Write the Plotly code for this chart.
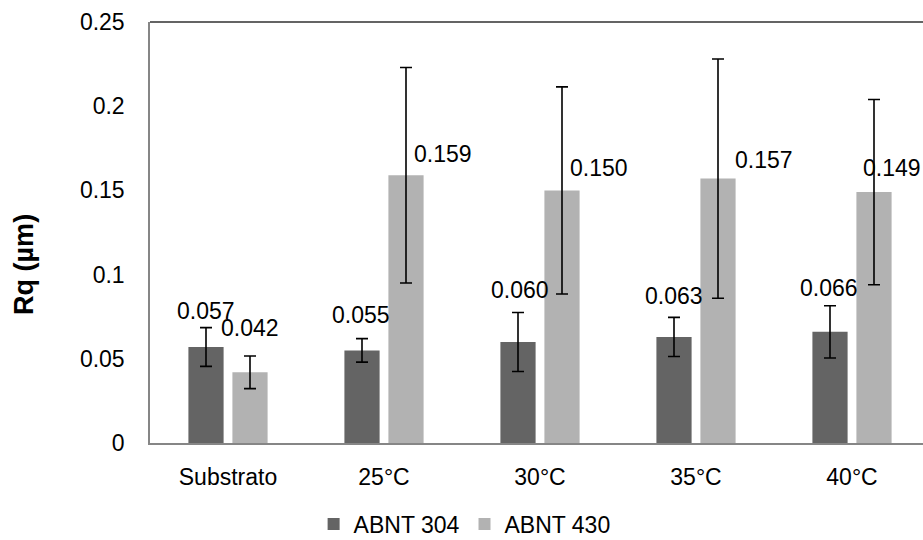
import plotly.graph_objects as go

categories = ["Substrato", "25°C", "30°C", "35°C", "40°C"]
series_names = ["ABNT 304", "ABNT 430"]
rq_304 = [0.057, 0.055, 0.060, 0.063, 0.066]
rq_430 = [0.042, 0.159, 0.150, 0.157, 0.149]
err_304 = [0.0115, 0.007, 0.0175, 0.0116, 0.0155]
err_430 = [0.0097, 0.064, 0.0615, 0.071, 0.055]
labels_304 = ["0.057", "0.055", "0.060", "0.063", "0.066"]
labels_430 = ["0.042", "0.159", "0.150", "0.157", "0.149"]

# label pixel offsets (dx, dy) relative to bar centre / bar top
lab_off_304 = [(0, 36), (-1, 35), (2, 52), (0, 41), (-1, 44)]
lab_off_430 = [(0, 44), (37, 21), (37, 22), (46, 19), (18, 24)]

colors = ["#646464", "#b2b2b2"]
FONT = "Liberation Sans"

fig = go.Figure()
for name, vals, errs, col in [
    (series_names[0], rq_304, err_304, colors[0]),
    (series_names[1], rq_430, err_430, colors[1]),
]:
    fig.add_trace(go.Bar(
        x=categories, y=vals, name=name,
        marker=dict(color=col, line=dict(width=0)),
        error_y=dict(type="data", array=errs, visible=True,
                     color="#000000", thickness=1.6, width=6),
    ))

annotations = []
for vals, labs, offs, gshift in [
    (rq_304, labels_304, lab_off_304, -22),
    (rq_430, labels_430, lab_off_430, 22),
]:
    for c, v, t, (dx, dy) in zip(categories, vals, labs, offs):
        annotations.append(dict(
            x=c, y=v, xref="x", yref="y", text=t, showarrow=False,
            xshift=gshift + dx, yshift=dy, xanchor="center", yanchor="middle",
            font=dict(family=FONT, size=23, color="#000000"),
        ))

annotations.append(dict(
    x=-0.163, y=0.423, xref="paper", yref="paper", text="<b>Rq (µm)</b>",
    showarrow=False, textangle=-90, xanchor="center", yanchor="middle",
    font=dict(family=FONT, size=27, color="#000000"),
))

fig.update_layout(
    width=923, height=540,
    margin=dict(l=150, r=0, t=22, b=97, autoexpand=False),
    paper_bgcolor="white", plot_bgcolor="white",
    barmode="group", bargap=0.436, bargroupgap=0.2,
    font=dict(family=FONT, size=23, color="#000000"),
    showlegend=True,
    legend=dict(orientation="h", x=0.407, xanchor="center",
                yref="paper", y=-0.1924, yanchor="middle",
                font=dict(family=FONT, size=23), itemwidth=30,
                traceorder="normal", bgcolor="rgba(0,0,0,0)"),
    annotations=annotations,
    shapes=[dict(type="line", xref="paper", yref="paper", x0=0, x1=1, y0=1, y1=1,
                 line=dict(color="#303030", width=1.5))],
)
fig.update_xaxes(
    type="category", range=[-0.5, -0.5 + 773 / 156],
    showline=True, linecolor="#868686", linewidth=1.5,
    showgrid=False, ticks="", ticklabelstandoff=13,
    tickfont=dict(family=FONT, size=23),
)
fig.update_yaxes(
    range=[0, 0.25], dtick=0.05, tick0=0,
    showline=True, linecolor="#868686", linewidth=1.5,
    showgrid=False, zeroline=False, ticks="", ticklabelstandoff=19,
    tickfont=dict(family=FONT, size=23),
)

fig.write_html("out.html")
